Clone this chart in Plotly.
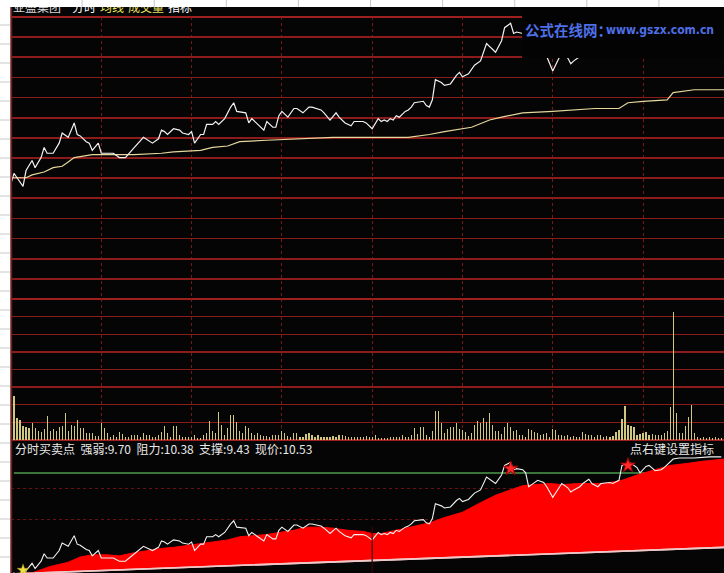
import numpy as np
import plotly.graph_objects as go

W, H = 724, 573


def fx(p):
    return p / W


def fy(p):
    return 1 - p / H


# ---------------- text / values ----------------
stock_name = "亚盛集团"
header_items = ["分时", "均线", "成交量", "指标"]
indicator_name = "分时买卖点"
strength = 9.70
resistance = 10.38
support = 9.43
last_price = 10.53
hint = "点右键设置指标"
wm_cn = "公式在线网："
wm_url = "www.gszx.com.cn"

# ---------------- price (minute, price) ----------------
price_min = [0, 1, 2, 4, 5, 7, 8, 10, 11, 12, 14, 16, 17, 19, 20, 21, 22, 23, 25, 26,
             27, 29, 30, 32, 34, 36, 38, 41, 44, 47, 49, 50, 51, 52, 54, 56, 57, 59, 60, 61,
             63, 64, 65, 67, 68, 69, 71, 73, 74, 75, 78, 79, 80, 82, 84, 85, 87, 88, 89, 90,
             92, 94, 95, 97, 99, 100, 103, 104, 106, 108, 109, 111, 113, 114, 117, 118, 120, 122, 123, 124,
             125, 126, 127, 128, 129, 131, 132, 133, 134, 137, 138, 139, 140, 141, 143, 144, 146, 148, 149, 150,
             152, 154, 156, 158, 161, 163, 164, 166, 167, 168, 170, 171, 172, 173, 175, 177, 178, 180, 182, 183,
             185, 186, 187, 189, 190, 192, 193, 195, 196, 199, 200, 202, 203, 205, 206, 208, 209, 211, 212, 214,
             216, 217, 220, 222, 227, 232, 236]
price_val = [9.37, 9.44, 9.41, 9.35, 9.46, 9.53, 9.48, 9.55, 9.62, 9.58, 9.58, 9.65, 9.72, 9.69, 9.74, 9.79, 9.71, 9.70, 9.66, 9.65,
             9.60, 9.65, 9.58, 9.58, 9.58, 9.55, 9.55, 9.62, 9.69, 9.65, 9.68, 9.74, 9.73, 9.71, 9.75, 9.74, 9.72, 9.71, 9.73, 9.65,
             9.71, 9.71, 9.78, 9.78, 9.80, 9.78, 9.82, 9.90, 9.93, 9.87, 9.86, 9.79, 9.82, 9.78, 9.74, 9.80, 9.76, 9.76, 9.84, 9.87,
             9.83, 9.89, 9.89, 9.86, 9.90, 9.90, 9.88, 9.86, 9.81, 9.86, 9.83, 9.79, 9.77, 9.80, 9.80, 9.79, 9.75, 9.82, 9.80, 9.81,
             9.80, 9.82, 9.81, 9.84, 9.83, 9.87, 9.88, 9.90, 9.93, 9.94, 9.91, 9.90, 9.95, 10.09, 10.07, 10.05, 10.06, 10.12, 10.14, 10.11,
             10.13, 10.19, 10.22, 10.34, 10.28, 10.36, 10.45, 10.48, 10.41, 10.42, 10.41, 10.38, 10.25, 10.27, 10.31, 10.29, 10.25, 10.15, 10.24, 10.28,
             10.24, 10.20, 10.22, 10.25, 10.28, 10.32, 10.28, 10.25, 10.28, 10.29, 10.28, 10.31, 10.45, 10.48, 10.47, 10.43, 10.38, 10.44, 10.45, 10.40,
             10.41, 10.43, 10.51, 10.52, 10.52, 10.53, 10.53]

# ---------------- average price line ----------------
avg_min = [0, 3, 5, 7, 11, 14, 17, 19, 21, 24, 27, 33, 41, 50, 54, 63, 67, 72, 76, 85,
           96, 107, 117, 132, 139, 144, 153, 159, 163, 170, 180, 194, 202, 205, 210, 218, 220, 224, 227, 237]
avg_val = [9.41, 9.41, 9.41, 9.43, 9.45, 9.48, 9.49, 9.52, 9.55, 9.56, 9.57, 9.57, 9.57, 9.58, 9.59, 9.60, 9.62, 9.63, 9.66, 9.67,
           9.68, 9.69, 9.69, 9.69, 9.71, 9.73, 9.76, 9.81, 9.83, 9.86, 9.87, 9.89, 9.89, 9.93, 9.94, 9.95, 10.00, 10.01, 10.02, 10.02]

# ---------------- volume per minute (from minute 1) ----------------
volume = [44, 22, 20, 14, 13, 12, 17, 12, 9, 8, 11, 24, 9, 11, 9, 13, 14, 27, 9, 15,
          14, 20, 12, 12, 7, 7, 7, 4, 4, 17, 12, 7, 3, 5, 3, 8, 6, 3, 3, 5,
          5, 5, 3, 7, 5, 5, 3, 3, 5, 8, 14, 7, 3, 14, 14, 5, 3, 3, 3, 3,
          5, 2, 2, 5, 7, 19, 9, 7, 28, 15, 5, 12, 25, 25, 18, 9, 7, 14, 12, 7,
          5, 7, 5, 4, 4, 3, 5, 5, 5, 9, 7, 4, 3, 7, 7, 3, 3, 6, 7, 5,
          3, 5, 3, 3, 3, 3, 4, 3, 5, 5, 4, 3, 3, 3, 3, 3, 3, 4, 3, 3,
          5, 2, 2, 2, 2, 3, 3, 3, 3, 5, 3, 3, 5, 12, 6, 13, 13, 5, 3, 9,
          29, 29, 17, 7, 11, 13, 13, 17, 11, 10, 8, 4, 7, 15, 19, 17, 22, 18, 27, 15,
          9, 9, 6, 13, 17, 13, 9, 10, 5, 5, 3, 11, 10, 8, 7, 5, 6, 7, 3, 11,
          10, 5, 5, 4, 5, 3, 4, 3, 3, 8, 6, 5, 5, 3, 5, 5, 3, 4, 3, 4,
          8, 10, 21, 34, 15, 14, 13, 5, 6, 7, 8, 5, 6, 5, 5, 5, 7, 9, 33, 128,
          27, 7, 7, 14, 23, 35, 7, 3, 2, 3, 2, 3, 2, 3, 2, 2]
vol_min = list(range(1, len(volume) + 1))

# ---------------- indicator panel ----------------
band_min = [0, 7, 13, 19, 23, 27, 32, 36, 41, 45, 50, 54, 59, 63, 67, 72, 76, 80, 85, 89,
            94, 98, 103, 107, 112, 117, 120, 123, 128, 133, 139, 144, 150, 156, 161, 167, 170, 174, 179, 183,
            189, 194, 197, 203, 208, 214, 219, 225, 230, 237]
band_val = [9.43, 9.44, 9.50, 9.54, 9.59, 9.61, 9.61, 9.60, 9.63, 9.65, 9.67, 9.68, 9.70, 9.72, 9.73, 9.75, 9.78, 9.79, 9.80, 9.82,
            9.84, 9.87, 9.87, 9.86, 9.84, 9.83, 9.81, 9.81, 9.84, 9.87, 9.91, 9.96, 10.01, 10.10, 10.17, 10.23, 10.26, 10.27, 10.28, 10.27,
            10.28, 10.28, 10.28, 10.31, 10.36, 10.41, 10.45, 10.47, 10.49, 10.51]
trend_min = [0, 237]
trend_val = [9.43, 9.68]
sell_min = [166, 205]
sell_val = [10.42, 10.45]
buy_min = [4]
buy_val = [9.465]
ind_levels = [9.94, 10.23]

# ---------------- axes geometry ----------------
X_RANGE = [0, 236.9]
MAIN_RANGE = [8.570, 10.524]
VOL_RANGE = [0, 141]
IND_RANGE = [9.439, 10.689]

GRID = "#8c1c1c"
xdom = [fx(11), 1]

fig = go.Figure()

# main panel
fig.add_trace(go.Scatter(x=avg_min, y=avg_val, mode="lines", line=dict(color="#e6d79a", width=1.2),
                         xaxis="x", yaxis="y", hoverinfo="skip"))
fig.add_trace(go.Scatter(x=price_min, y=price_val, mode="lines", line=dict(color="#f2f2f2", width=1.2),
                         xaxis="x", yaxis="y", hoverinfo="skip"))
# volume
fig.add_trace(go.Bar(x=vol_min, y=volume, width=0.38, marker=dict(color="#d0c880", line=dict(width=0)),
                     xaxis="x2", yaxis="y2", hoverinfo="skip"))
# indicator
fig.add_trace(go.Scatter(x=trend_min, y=trend_val, mode="lines", line=dict(color="#f0c8c8", width=1.6),
                         xaxis="x3", yaxis="y3", hoverinfo="skip"))
fig.add_trace(go.Scatter(x=band_min, y=band_val, mode="lines", line=dict(color="#ff0000", width=1),
                         fill="tonexty", fillcolor="#ff0000", xaxis="x3", yaxis="y3", hoverinfo="skip"))
fig.add_trace(go.Scatter(x=trend_min, y=trend_val, mode="lines", line=dict(color="#f0c8c8", width=1.6),
                         xaxis="x3", yaxis="y3", hoverinfo="skip"))
fig.add_trace(go.Scatter(x=price_min, y=price_val, mode="lines", line=dict(color="#f2f2f2", width=1.1),
                         xaxis="x3", yaxis="y3", hoverinfo="skip"))
fig.add_trace(go.Scatter(x=sell_min, y=sell_val, mode="markers",
                         marker=dict(symbol="star", size=11, color="#ff2a2a", line=dict(color="#a00000", width=1)),
                         xaxis="x3", yaxis="y3", hoverinfo="skip"))
fig.add_trace(go.Scatter(x=buy_min, y=buy_val, mode="markers",
                         marker=dict(symbol="star", size=9, color="#f0e040", line=dict(color="#a09020", width=0.5)),
                         xaxis="x3", yaxis="y3", hoverinfo="skip", cliponaxis=False))

# header text (partly clipped by chart top edge, as in the source)
hdr_x = [13, 72, 100, 128, 168]
hdr_txt = [stock_name] + header_items
hdr_col = ["#d8d8d8", "#ffffff", "#f2f05a", "#e0dc60", "#ffffff"]
fig.add_trace(go.Scatter(x=hdr_x, y=[9] * 5, mode="text", text=hdr_txt, textposition="middle right",
                         textfont=dict(family="Noto Sans CJK SC", size=12, color=hdr_col),
                         xaxis="x4", yaxis="y4", hoverinfo="skip", cliponaxis=True))

ax_common = dict(showline=False, zeroline=False, ticks="", showticklabels=False, fixedrange=True)
vgrid = [30, 60, 90, 120, 150, 180, 210]

fig.update_layout(
    width=W, height=H, margin=dict(l=0, r=0, t=0, b=0),
    paper_bgcolor="white", plot_bgcolor="rgba(0,0,0,0)", showlegend=False,
    bargap=0,
    xaxis=dict(domain=xdom, range=X_RANGE, anchor="y", tickvals=vgrid, showgrid=True,
               gridcolor="#7a1616", gridwidth=1, griddash="dot", **ax_common),
    yaxis=dict(domain=[fy(299), fy(17)], range=MAIN_RANGE, anchor="x",
               tickvals=list(np.linspace(MAIN_RANGE[0], MAIN_RANGE[1], 15))[1:-1],
               showgrid=True, gridcolor=GRID, gridwidth=1.6, **ax_common),
    xaxis2=dict(domain=xdom, range=X_RANGE, anchor="y2", matches="x", tickvals=vgrid, showgrid=True,
                gridcolor="#7a1616", gridwidth=1, griddash="dot", **ax_common),
    yaxis2=dict(domain=[fy(440), fy(299)], range=VOL_RANGE, anchor="x2",
                tickvals=list(np.linspace(VOL_RANGE[0], VOL_RANGE[1], 9))[1:-1],
                showgrid=True, gridcolor=GRID, gridwidth=1.4, **ax_common),
    xaxis3=dict(domain=xdom, range=X_RANGE, anchor="y3", matches="x", showgrid=False, **ax_common),
    yaxis3=dict(domain=[fy(573), fy(440)], range=IND_RANGE, anchor="x3",
                tickvals=ind_levels, showgrid=True, gridcolor="#6a1010",
                gridwidth=1, griddash="dot", **ax_common),
    xaxis4=dict(domain=xdom, range=[11, W], anchor="y4", showgrid=False, **ax_common),
    yaxis4=dict(domain=[0, fy(7)], range=[H, 7], anchor="x4", showgrid=False, **ax_common),
)

shapes = []
# black chart area
shapes.append(dict(type="rect", xref="paper", yref="paper", x0=fx(10.5), x1=1, y0=0, y1=fy(7),
                   fillcolor="#050505", line=dict(width=0), layer="below"))
# spreadsheet strip lines (left)
for k in range(29):
    yy = 25 + 19 * k
    shapes.append(dict(type="line", xref="paper", yref="paper", x0=0, x1=fx(10), y0=fy(yy), y1=fy(yy),
                       line=dict(color="#c8c8c8", width=1), layer="below"))
# spreadsheet strip lines (top)
for k in range(1, 10):
    xx = 10 + 72.1 * k
    shapes.append(dict(type="line", xref="paper", yref="paper", x0=fx(xx), x1=fx(xx), y0=fy(7), y1=1,
                       line=dict(color="#c8c8c8", width=1), layer="below"))
# left border
shapes.append(dict(type="line", xref="paper", yref="paper", x0=fx(11.5), x1=fx(11.5), y0=0, y1=fy(7),
                   line=dict(color="#7a1a1a", width=1.5), layer="above"))
# panel frames
for yy in (17, 299, 440):
    shapes.append(dict(type="line", xref="paper", yref="paper", x0=fx(11), x1=1, y0=fy(yy), y1=fy(yy),
                       line=dict(color="#a02020", width=1.8), layer="below"))
# resistance line
shapes.append(dict(type="line", xref="x3 domain", yref="y3", x0=0.004, x1=1, y0=resistance, y1=resistance,
                   line=dict(color="#4e9a4e", width=1.5), layer="below"))
# dark centre line in indicator
shapes.append(dict(type="line", xref="x3", yref="y3 domain", x0=120, x1=120, y0=0, y1=0.35,
                   line=dict(color="#3a0606", width=1.2), layer="above"))
# watermark box
shapes.append(dict(type="rect", xref="paper", yref="paper", x0=fx(522), x1=1, y0=fy(58), y1=fy(7),
                   fillcolor="#030303", line=dict(width=0), layer="above"))
fig.update_layout(shapes=shapes)

ann = []
ind_text = f"{indicator_name}  强弱:{strength:.2f}  阻力:{resistance:.2f}  支撑:{support:.2f}  现价:{last_price:.2f}"
ann.append(dict(xref="paper", yref="paper", x=fx(13), y=fy(448), text=ind_text, showarrow=False,
                xanchor="left", yanchor="middle", font=dict(family="Noto Sans CJK SC", size=12, color="#e8e8e8")))
ann.append(dict(xref="paper", yref="paper", x=fx(628), y=fy(448), text=hint, showarrow=False,
                xanchor="left", yanchor="middle", font=dict(family="Noto Sans CJK SC", size=12, color="#e8e8e8")))
ann.append(dict(xref="paper", yref="paper", x=fx(523), y=fy(30), text=f"<b>{wm_cn}</b>", showarrow=False,
                xanchor="left", yanchor="middle", font=dict(family="Noto Sans CJK SC", size=14.5, color="#4f6fe6")))
ann.append(dict(xref="paper", yref="paper", x=fx(604), y=fy(30), text=f"<b>{wm_url}</b>", showarrow=False,
                xanchor="left", yanchor="middle",
                font=dict(family="Liberation Sans Narrow, DejaVu Sans Condensed, Liberation Sans",
                          size=12, color="#4f6fe6")))
fig.update_layout(annotations=ann)

fig.write_html("out.html", config={"displayModeBar": False, "staticPlot": True},
               post_script="document.body.style.margin='0px';document.body.style.padding='0px';")
